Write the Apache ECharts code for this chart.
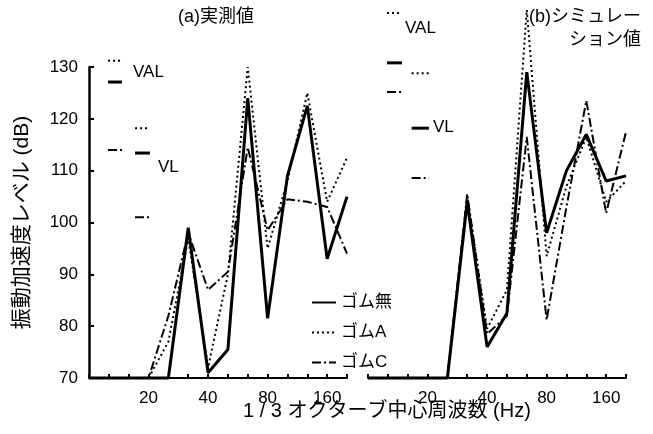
<!DOCTYPE html>
<html>
<head>
<meta charset="utf-8">
<script src="https://cdn.jsdelivr.net/npm/echarts@6/dist/echarts.min.js"></script>
<style>
  html, body { margin: 0; padding: 0; background: #fff; }
  #chart { width: 653px; height: 434px; }
</style>
</head>
<body>
<div id="chart"></div>
<script>
// 1/3 octave centre frequencies (Hz), one per category position
const freqs = ["10", "12.5", "16", "20", "25", "31.5", "40", "50", "63", "80", "100", "125", "160", "200"];
const tickLabels = ["20", "40", "80", "160"];
const seriesNames = ["ゴム無", "ゴムA", "ゴムC"];

// (a) measured, dB
const measNone = [70, 70, 70, 70, 70, 99, 71, 75.5, 124, 81.5, 109, 122.5, 93, 105];
const measA = [70, 70, 70, 70, 77, 97, 72, 90, 130, 95, 108, 125, 104, 112.5];
const measC = [70, 70, 70, 70, 82, 98, 87, 90.5, 114.5, 98.5, 104.5, 104, 103, 94];

// (b) simulation, dB
const simNone = [70, 70, 70, 70, 70, 104, 76, 82.5, 129, 98, 110, 117, 108, 109];
const simA = [70, 70, 70, 70, 70, 105, 79.5, 87, 141, 93.5, 107, 116.5, 104, 108];
const simC = [70, 70, 70, 70, 70, 105.5, 78.5, 82, 116.5, 81.2, 103, 123.5, 101.8, 117.5];

// overall levels shown as short marks (order: ゴム無, ゴムA, ゴムC)
const measVAL = [127.1, 131.2, 114];
const measVL = [113.4, 118.2, 101];
const simVAL = [130.8, 140.4, 125.2];
const simVL = [118.2, 128.8, 108.6];

const FONT = "'Liberation Sans', 'Noto Sans CJK JP', sans-serif";
const styles = [
  { type: "solid", width: 3 },
  { type: [2, 3], width: 2 },
  { type: [9, 3, 2, 3], width: 2 },
];

const pairs = (arr) => arr.map((v, i) => [i, v]);

const chart = echarts.init(document.getElementById("chart"));

function lineSeries(k, name, data, s) {
  return {
    name,
    type: "line",
    xAxisIndex: k,
    yAxisIndex: k,
    data,
    symbol: "none",
    clip: false,
    silent: true,
    lineStyle: { color: "#000", ...styles[s] },
    itemStyle: { color: "#000" },
  };
}

function panelSeries(k, values, valLv, vlLv, valX, vlX) {
  const out = [];
  values.forEach((vals, s) => {
    out.push(lineSeries(k, seriesNames[s], pairs(vals), s));
    out.push(lineSeries(k, "VAL " + seriesNames[s], [[valX[0], valLv[s]], [valX[1], valLv[s]]], s));
    out.push(lineSeries(k, "VL " + seriesNames[s], [[vlX[0], vlLv[s]], [vlX[1], vlLv[s]]], s));
  });
  return out;
}

const xAxisBase = (k) => ({
  type: "value",
  gridIndex: k,
  min: 0,
  max: freqs.length - 1,
  interval: 1,
  axisLine: { lineStyle: { color: "#000", width: 2 } },
  axisTick: { inside: true, length: 4, lineStyle: { color: "#000", width: 2 } },
  splitLine: { show: false },
  axisLabel: {
    color: "#000",
    fontSize: 17,
    fontFamily: FONT,
    margin: 12,
    formatter: (v) => (tickLabels.includes(freqs[v]) ? freqs[v] : ""),
  },
});

chart.setOption({
  backgroundColor: "#fff",
  animation: false,
  grid: [
    { left: 89, top: 67, width: 258, height: 311 },
    { left: 368, top: 67, width: 258, height: 311 },
  ],
  xAxis: [xAxisBase(0), xAxisBase(1)],
  yAxis: [
    {
      type: "value",
      gridIndex: 0,
      min: 70,
      max: 130,
      interval: 10,
      name: "振動加速度レベル (dB)",
      nameLocation: "middle",
      nameGap: 56,
      nameTextStyle: { color: "#000", fontSize: 21, fontFamily: FONT },
      axisLine: { show: true, lineStyle: { color: "#000", width: 2.5 } },
      axisTick: { inside: true, length: 5, lineStyle: { color: "#000", width: 2 } },
      splitLine: { show: false },
      axisLabel: { color: "#000", fontSize: 17, fontFamily: FONT, margin: 11 },
    },
    {
      type: "value",
      gridIndex: 1,
      min: 70,
      max: 130,
      interval: 10,
      show: false,
      splitLine: { show: false },
    },
  ],
  legend: {
    data: seriesNames,
    orient: "vertical",
    left: 306,
    top: 289,
    itemWidth: 24,
    itemHeight: 14,
    itemGap: 13,
    itemStyle: { opacity: 0 },
    textStyle: { color: "#000", fontSize: 17, fontFamily: FONT },
  },
  graphic: [
    { type: "text", left: 178, top: 8, style: { text: "(a)実測値", font: "18px " + FONT, fill: "#000" } },
    { type: "text", right: 12, top: 8, style: { text: "(b)シミュレー", font: "18px " + FONT, fill: "#000" } },
    { type: "text", right: 12, top: 31, style: { text: "ション値", font: "18px " + FONT, fill: "#000" } },
    { type: "text", left: 133, top: 64, style: { text: "VAL", font: "17px " + FONT, fill: "#000" } },
    { type: "text", left: 158, top: 159, style: { text: "VL", font: "17px " + FONT, fill: "#000" } },
    { type: "text", left: 405, top: 20, style: { text: "VAL", font: "17px " + FONT, fill: "#000" } },
    { type: "text", left: 433, top: 119, style: { text: "VL", font: "17px " + FONT, fill: "#000" } },
    {
      type: "text", left: 243, top: 401,
      style: { text: "1 / 3 オクターブ中心周波数 (Hz)", font: "20px " + FONT, fill: "#000" },
    },
  ],
  series: [
    ...panelSeries(0, [measNone, measA, measC], measVAL, measVL, [0.96, 1.66], [2.32, 3.07]),
    ...panelSeries(1, [simNone, simA, simC], simVAL, simVL, [0.96, 1.71], [2.2, 3.07]),
  ],
});
</script>
</body>
</html>
